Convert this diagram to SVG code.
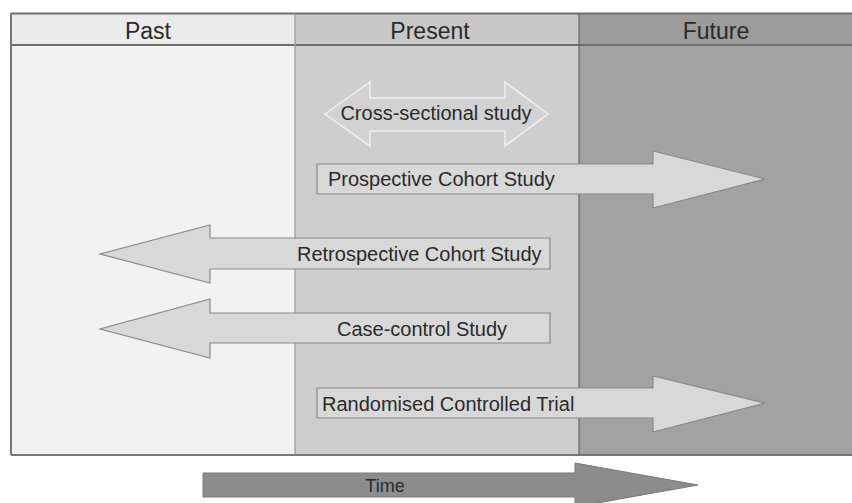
<svg xmlns="http://www.w3.org/2000/svg" width="852" height="503" viewBox="0 0 852 503">
  <style>
    .hdr { font-family: "Liberation Sans", Arial, sans-serif; font-size: 23px; fill: #2a2a2a; text-anchor: middle; }
    .lbl { font-family: "Liberation Sans", Arial, sans-serif; font-size: 20px; fill: #2a2a2a; }
    .arrow { fill: #d8d8d8; stroke: #8a8a8a; stroke-width: 1.2; }
    .grid { stroke: #6e6e6e; fill: none; }
  </style>
  <rect width="852" height="503" fill="#ffffff"/>

  <g id="col-past">
    <rect x="11" y="13" width="284" height="442" fill="#f2f2f2"/>
    <rect x="11" y="13" width="284" height="32" fill="#ebebeb"/>
    <text class="hdr" x="148" y="39">Past</text>
  </g>
  <g id="col-present">
    <rect x="295" y="13" width="284" height="442" fill="#cecece"/>
    <rect x="295" y="13" width="284" height="32" fill="#c8c8c8"/>
    <text class="hdr" x="430" y="39">Present</text>
  </g>
  <g id="col-future">
    <rect x="579" y="13" width="273" height="442" fill="#a2a2a2"/>
    <rect x="579" y="13" width="273" height="32" fill="#9c9c9c"/>
    <text class="hdr" x="716" y="39">Future</text>
  </g>

  <g id="frame" class="grid">
    <line x1="11" y1="13.5" x2="852" y2="13.5" stroke-width="2"/>
    <line x1="11" y1="45" x2="852" y2="45" stroke-width="2.2"/>
    <line x1="11" y1="13" x2="11" y2="455" stroke-width="2" stroke="#777"/>
    <line x1="11" y1="455" x2="852" y2="455" stroke-width="2" stroke="#777"/>
    <line x1="295" y1="13" x2="295" y2="455" stroke-width="1.2" stroke="#999"/>
    <line x1="579" y1="13" x2="579" y2="455" stroke-width="1.2" stroke="#666"/>
  </g>

  <g id="connectors">
    <g id="cross-sectional">
      <polygon points="325,114 370,82 370,98 505,98 505,82 548,114 505,146 505,131 370,131 370,146" fill="#d2d2d2" stroke="#f0f0f0" stroke-width="1.5"/>
      <text class="lbl" x="436" y="120" text-anchor="middle">Cross-sectional study</text>
    </g>
    <g id="prospective">
      <polygon class="arrow" points="317,164 653,164 653,151 765,179 653,208 653,194 317,194"/>
      <text class="lbl" x="328" y="186">Prospective Cohort Study</text>
    </g>
    <g id="retrospective">
      <polygon class="arrow" points="550,238 210,238 210,225 100,254 210,283 210,269 550,269"/>
      <text class="lbl" x="297" y="261">Retrospective Cohort Study</text>
    </g>
    <g id="case-control">
      <polygon class="arrow" points="550,313 210,313 210,299 100,329 210,358 210,343 550,343"/>
      <text class="lbl" x="422" y="336" text-anchor="middle">Case-control Study</text>
    </g>
    <g id="rct">
      <polygon class="arrow" points="317,388 653,388 653,376 765,403 653,432 653,418 317,418"/>
      <text class="lbl" x="322" y="411">Randomised Controlled Trial</text>
    </g>
    <g id="time">
      <polygon points="203,473 575,473 575,463 698,485 575,507 575,497 203,497" fill="#8c8c8c" stroke="#7a7a7a" stroke-width="1"/>
      <text x="385" y="492" font-family="Liberation Sans, Arial, sans-serif" font-size="18" fill="#2a2a2a" text-anchor="middle">Time</text>
    </g>
  </g>
</svg>
